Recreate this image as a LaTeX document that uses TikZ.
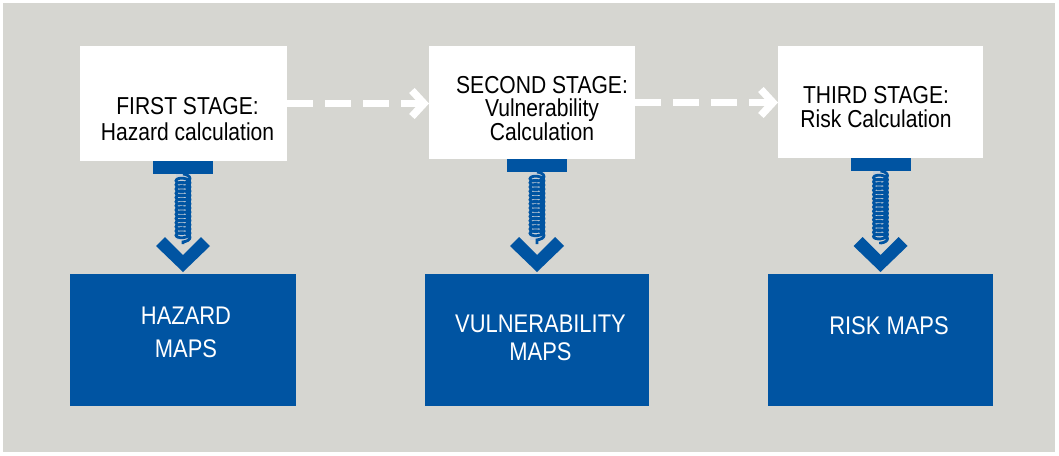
\documentclass[tikz,border=0pt]{standalone}
\usepackage{fontspec}
\setmainfont{Liberation Sans}[FakeStretch=0.86]
\usetikzlibrary{calc,arrows.meta,decorations.pathmorphing}
\definecolor{bgc}{RGB}{214,214,209}
\definecolor{blu}{RGB}{0,84,162}
\definecolor{springbg}{RGB}{196,206,216}
\begin{document}
\begin{tikzpicture}[x=1pt,y=-1pt,
  wbox/.style={fill=white, draw=none, inner sep=0pt, outer sep=0pt},
  bbox/.style={fill=blu, draw=none, inner sep=0pt, outer sep=0pt},
  wtext/.style={inner sep=0pt, align=center, text=black, font=\fontsize{24.5}{23.5}\selectfont},
  btext/.style={inner sep=0pt, align=center, text=white, font=\fontsize{25.5}{28}\selectfont},
  dasharrow/.style={draw=white, line width=7.5pt, dash pattern=on 26pt off 12pt,
    -{Straight Barb[length=12pt,width=26pt]}},
  springback/.style={draw=springbg, line width=15pt},
  spring/.style={draw=blu, line width=2.8pt, decorate,
    decoration={coil, amplitude=7pt, segment length=4.2pt}},
  barfill/.style={fill=blu},
  chev/.style={fill=blu}
]
\useasboundingbox (0,0) rectangle (1059,455);
\fill[white] (0,0) rectangle (1059,455);
\fill[bgc] (3,3) rectangle (1055,452);

% white stage boxes
\node[wbox, minimum width=207pt, minimum height=115pt] (w1) at (183.5,103.5) {};
\node[wbox, minimum width=206pt, minimum height=113pt] (w2) at (532,102.5) {};
\node[wbox, minimum width=205pt, minimum height=112pt] (w3) at (880.5,102) {};

% blue map boxes
\node[bbox, minimum width=226pt, minimum height=132pt] (b1) at (183,340) {};
\node[bbox, minimum width=224pt, minimum height=132pt] (b2) at (537,340) {};
\node[bbox, minimum width=225pt, minimum height=132pt] (b3) at (880.5,340) {};

% texts
\node[wtext] (t1) at (187.5,119) {FIRST STAGE:\\[2.5pt]Hazard calculation};
\node[wtext] (t2) at (542,108.5) {SECOND STAGE:\\Vulnerability\\Calculation};
\node[wtext] (t3) at (876,107) {THIRD STAGE:\\Risk Calculation};
\node[btext] (m1) at (186,332.5) {HAZARD\\[5pt]MAPS};
\node[btext] (m2) at (540.5,338) {VULNERABILITY\\MAPS};
\node[btext] (m3) at (889,326) {RISK MAPS};

% dashed arrows between stages
\draw[dasharrow] (w1.east) -- (w1.east -| w2.west);
\draw[dasharrow] (w2.east) -- (w2.east -| w3.west);

% vertical spring connectors
\foreach \w/\b in {w1/b1, w2/b2, w3/b3}{
  \draw[springback] ($(\b.north |- \w.south)+(0,13)$) -- ($(\b.north)+(0,-34)$);
  \fill[barfill] ($(\b.north |- \w.south)+(-30,0)$) rectangle ++(60,13);
  \draw[spring] ($(\b.north |- \w.south)+(0,13)$) -- ($(\b.north)+(0,-30)$);
  \fill[chev] ($(\b.north)+(0,-2)$) -- ++(-27,-26) -- ++(9,-9) -- ($(\b.north)+(0,-19)$)
     -- ++(18,-18) -- ++(9,9) -- cycle;
}
\end{tikzpicture}
\end{document}
